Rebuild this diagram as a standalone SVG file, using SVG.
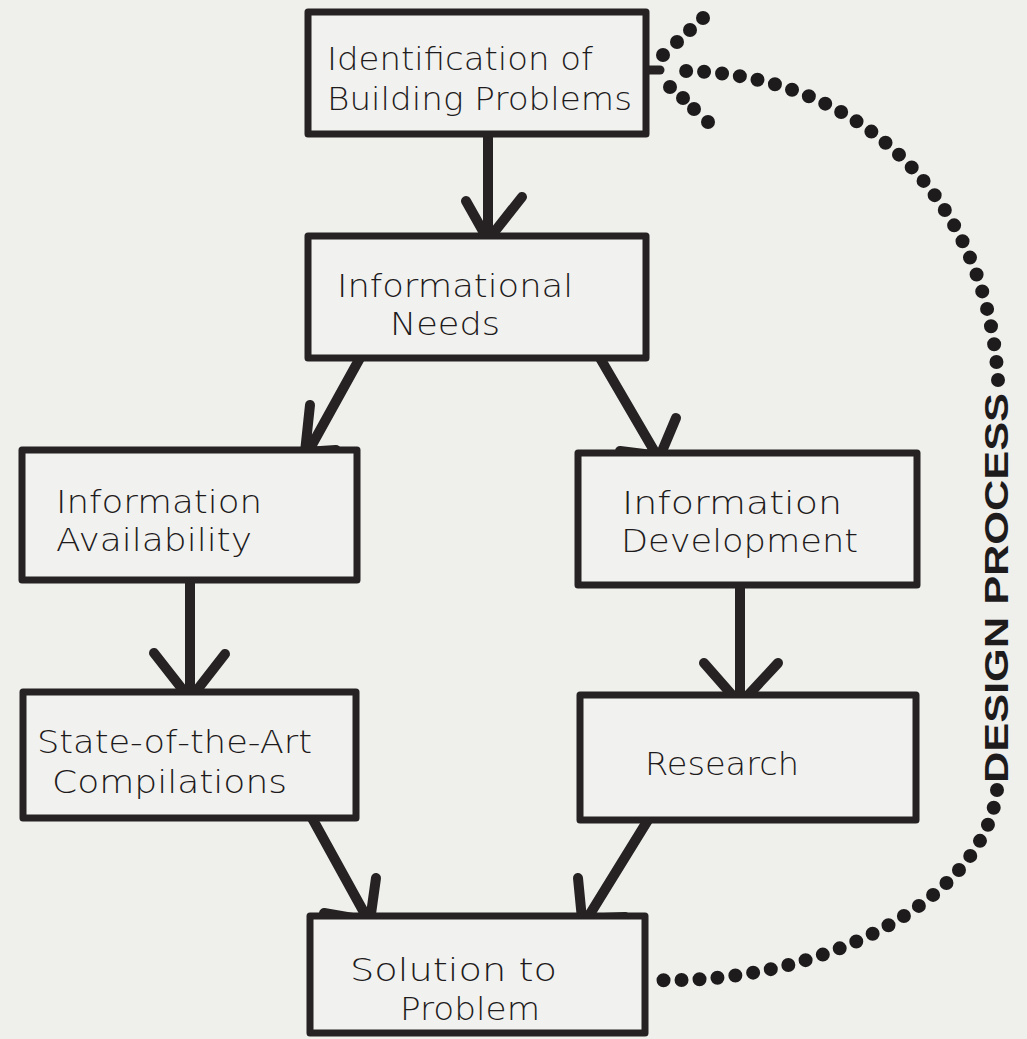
<svg xmlns="http://www.w3.org/2000/svg" width="1027" height="1039" viewBox="0 0 1027 1039">
<style>
.bg{fill:#efefec}
.box{fill:#f1f1ef;stroke:#262223;stroke-width:7;stroke-linejoin:round}
.lbl{font-family:"DejaVu Sans","Liberation Sans",sans-serif;font-weight:200;font-size:32px;fill:#1e1b1c}
.ln{fill:none;stroke:#262223;stroke-width:10;stroke-linecap:round;stroke-linejoin:round}
.dots{fill:none;stroke:#1e1b1c;stroke-width:14;stroke-linecap:round;stroke-dasharray:0 18}
.dot{fill:#1e1b1c}
.dp{font-family:"Liberation Sans","DejaVu Sans",sans-serif;font-weight:bold;font-size:34px;fill:#1e1b1c}
</style>
<rect class="bg" x="0" y="0" width="1027" height="1039"/>
<g id="connectors">
<path class="ln" d="M488 134 V238 M466 201 L488 240 L522 197"/>
<path class="ln" d="M360 358 L308 452 M310 405 L305 452 L336 450"/>
<path class="ln" d="M600 358 L656 454 M676 418 L660 456 L620 451"/>
<path class="ln" d="M190 580 V697 M154 653 L190 699 L225 654"/>
<path class="ln" d="M740 585 V701 M704 663 L740 704 L778 663"/>
<path class="ln" d="M312 818 L366 916 M376 878 L370 921 L324 913"/>
<path class="ln" d="M648 820 L590 914 M578 878 L582 919 L625 917"/>
<g id="design-process">
<path class="dots" d="M998 380 C985 180 840 68 673 71"/>
<path class="dots" d="M997 790 C985 900 820 985 655 980"/>
<circle class="dot" cx="663" cy="55" r="7"/>
<circle class="dot" cx="677" cy="42" r="7"/>
<circle class="dot" cx="690" cy="30" r="7"/>
<circle class="dot" cx="703" cy="18" r="7"/>
<circle class="dot" cx="670" cy="87" r="7"/>
<circle class="dot" cx="683" cy="98" r="7"/>
<circle class="dot" cx="694" cy="109" r="7"/>
<circle class="dot" cx="708" cy="122" r="7"/>
<path class="ln" d="M648 70 H660" style="stroke-width:9"/>
<text class="dp" transform="translate(1008 588) rotate(-90)" text-anchor="middle" textLength="390" lengthAdjust="spacingAndGlyphs">DESIGN PROCESS</text>
</g>
</g>
<g id="n1"><rect class="box" x="308" y="12" width="338" height="122"/>
<text class="lbl" x="327" y="70" textLength="266" lengthAdjust="spacingAndGlyphs">Identification of</text>
<text class="lbl" x="327" y="110" textLength="305" lengthAdjust="spacingAndGlyphs">Building Problems</text></g>
<g id="n2"><rect class="box" x="308" y="236" width="338" height="122"/>
<text class="lbl" x="337" y="297" textLength="236" lengthAdjust="spacingAndGlyphs">Informational</text>
<text class="lbl" x="390" y="335" textLength="110" lengthAdjust="spacingAndGlyphs">Needs</text></g>
<g id="n3"><rect class="box" x="22" y="450" width="335" height="130"/>
<text class="lbl" x="56" y="513" textLength="206" lengthAdjust="spacingAndGlyphs">Information</text>
<text class="lbl" x="56" y="551" textLength="196" lengthAdjust="spacingAndGlyphs">Availability</text></g>
<g id="n4"><rect class="box" x="578" y="453" width="339" height="132"/>
<text class="lbl" x="622" y="514" textLength="220" lengthAdjust="spacingAndGlyphs">Information</text>
<text class="lbl" x="621" y="552" textLength="237" lengthAdjust="spacingAndGlyphs">Development</text></g>
<g id="n5"><rect class="box" x="23" y="692" width="333" height="126"/>
<text class="lbl" x="37" y="753" textLength="275" lengthAdjust="spacingAndGlyphs">State-of-the-Art</text>
<text class="lbl" x="52" y="793" textLength="235" lengthAdjust="spacingAndGlyphs">Compilations</text></g>
<g id="n6"><rect class="box" x="580" y="695" width="336" height="125"/>
<text class="lbl" x="645" y="775" textLength="154" lengthAdjust="spacingAndGlyphs">Research</text></g>
<g id="n7"><rect class="box" x="310" y="916" width="335" height="117"/>
<text class="lbl" x="350" y="981" textLength="207" lengthAdjust="spacingAndGlyphs">Solution to</text>
<text class="lbl" x="400" y="1020" textLength="140" lengthAdjust="spacingAndGlyphs">Problem</text></g>
</svg>
